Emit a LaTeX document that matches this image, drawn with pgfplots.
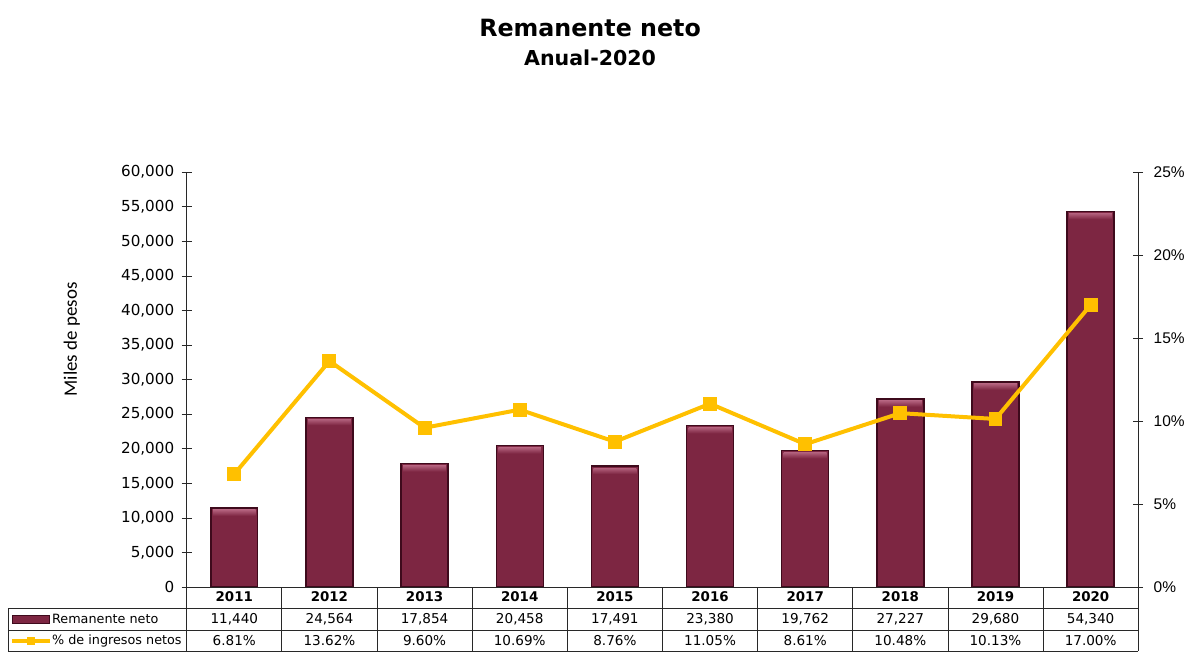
\documentclass[border=0pt]{standalone}
\usepackage{pgfplots}
\pgfplotsset{compat=1.18}
\usepackage{fontspec}
\setmainfont{DejaVu Sans}
\newfontfamily\lib{Liberation Sans}
\newfontfamily\carl{Carlito}
\definecolor{barcol}{RGB}{125,38,66}
\definecolor{bardark}{RGB}{62,10,28}
\definecolor{barlight}{RGB}{178,96,124}
\definecolor{linecol}{RGB}{255,192,0}
\definecolor{axcol}{RGB}{40,40,40}
\begin{document}
\begin{tikzpicture}[x=1bp,y=1bp]
\begin{axis}[
  anchor=south west, at={(0,0)},
  scale only axis, width=953bp, height=415.5bp,
  xmin=-0.5, xmax=9.5, ymin=0, ymax=60000,
  axis x line*=bottom, axis y line*=left,
  axis line style={-, axcol, line width=0.8bp},
  xtick=\empty,
  scaled y ticks=false,
  ytick={0,5000,10000,15000,20000,25000,30000,35000,40000,45000,50000,55000,60000},
  yticklabels={0,{5,000},{10,000},{15,000},{20,000},{25,000},{30,000},{35,000},{40,000},{45,000},{50,000},{55,000},{60,000}},
  yticklabel style={font=\fontsize{15.2bp}{17bp}\selectfont, xshift=-4bp},
  tick align=center, major tick length=10bp,
  tick style={axcol, line width=0.8bp},
  ybar, bar width=47bp,
  clip=false,
]
\addplot[fill=barcol, draw=bardark, line width=1.4bp,
  nodes near coords={\hbox{}},
  every node near coord/.style={anchor=north, yshift=-1.2bp, inner sep=0pt,
     minimum width=43bp, minimum height=6bp, top color=barlight, bottom color=barcol, draw=none}
  ] coordinates {
  (0,11440) (1,24564) (2,17854) (3,20458) (4,17491)
  (5,23380) (6,19762) (7,27227) (8,29680) (9,54340)
};
\end{axis}
\begin{axis}[
  anchor=south west, at={(0,0)},
  scale only axis, width=953bp, height=415.5bp,
  xmin=-0.5, xmax=9.5, ymin=0, ymax=25,
  axis y line*=right, axis x line=none,
  axis line style={-, axcol, line width=0.8bp},
  ytick={0,5,10,15,20,25},
  yticklabels={0\%,5\%,10\%,15\%,20\%,25\%},
  yticklabel style={font=\lib\fontsize{15.5bp}{17bp}\selectfont, xshift=7bp},
  tick align=center, major tick length=10bp,
  tick style={axcol, line width=0.8bp},
  clip=false,
]
\addplot[color=linecol, line width=4bp, mark=square*, mark size=5bp, mark options={solid}] coordinates {
  (0,6.81) (1,13.62) (2,9.60) (3,10.69) (4,8.76)
  (5,11.05) (6,8.61) (7,10.48) (8,10.13) (9,17.00)
};
\end{axis}
\begin{scope}[shift={(-187,-65)}]
\path[use as bounding box] (0,0) rectangle (1188,653);
% titles
\node[font=\bfseries\fontsize{23.8bp}{28bp}\selectfont] at (591,625) {Remanente neto};
\node[font=\bfseries\fontsize{20.6bp}{24bp}\selectfont] at (591,595) {Anual-2020};
\node[rotate=90, font=\carl\fontsize{19bp}{22bp}\selectfont] at (72,313) {Miles de pesos};
% data table
\begin{scope}[axcol, line width=0.8bp]
\draw (187,65) -- (1140,65);
\draw (8,44) -- (1140,44);
\draw (8,22) -- (1140,22);
\draw (8,1) -- (1140,1);
\draw (8,44) -- (8,1);
\foreach \k in {0,...,10} { \draw ({187+95.3*\k},65) -- ({187+95.3*\k},1); }
\end{scope}
\foreach \lab [count=\i from 0] in {2011,2012,2013,2014,2015,2016,2017,2018,2019,2020}
  \node[font=\bfseries\fontsize{13.4bp}{15bp}\selectfont] at ({187+95.3*(\i+0.5)},55) {\lab};
\foreach \lab [count=\i from 0] in {{11,440},{24,564},{17,854},{20,458},{17,491},{23,380},{19,762},{27,227},{29,680},{54,340}}
  \node[font=\fontsize{13.6bp}{15bp}\selectfont] at ({187+95.3*(\i+0.5)},33) {\lab};
\foreach \lab [count=\i from 0] in {6.81,13.62,9.60,10.69,8.76,11.05,8.61,10.48,10.13,17.00}
  \node[font=\fontsize{13.6bp}{15bp}\selectfont] at ({187+95.3*(\i+0.5)},11) {\lab\%};
% legend keys
\filldraw[fill=barcol, draw=bardark, line width=1bp] (13,28.5) rectangle (50,37);
\draw[linecol, line width=4bp] (12,11) -- (50,11);
\fill[linecol] (27,7) rectangle (35,15);
\node[anchor=west, font=\fontsize{12.8bp}{15bp}\selectfont, inner sep=0pt] at (52,33) {Remanente neto};
\node[anchor=west, font=\fontsize{12.8bp}{15bp}\selectfont, inner sep=0pt] at (52,11) {\% de ingresos netos};
\end{scope}
\end{tikzpicture}
\end{document}
